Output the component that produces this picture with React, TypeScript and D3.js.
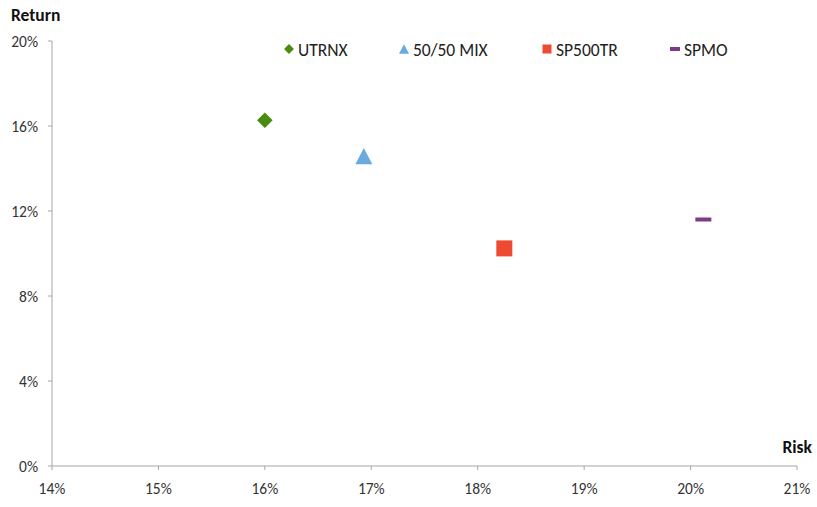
import { useEffect, useRef } from "react";
import * as d3 from "d3";

const names = ["UTRNX", "50/50 MIX", "SP500TR", "SPMO"];
const risk = [16.0, 16.93, 18.25, 20.12];
const ret = [16.27, 14.58, 10.24, 11.6];
const shapes = ["diamond", "triangle", "square", "dash"];
const colors = ["#4a8c10", "#6aaade", "#ee4a32", "#7d3a88"];
const xTicks = [14, 15, 16, 17, 18, 19, 20, 21];
const yTicks = [0, 4, 8, 12, 16, 20];

const width = 817;
const height = 507;
const font = "Carlito, 'Open Sans', 'Liberation Sans', sans-serif";

function drawMarker(g: d3.Selection<SVGGElement, unknown, null, undefined>, shape: string, color: string, s: number) {
  if (shape === "diamond") {
    g.append("rect").attr("x", -s / 2).attr("y", -s / 2).attr("width", s).attr("height", s)
      .attr("transform", "rotate(45)").attr("fill", color);
  } else if (shape === "triangle") {
    const h = s * 0.95;
    g.append("path").attr("d", `M0,${-h / 2}L${s / 2},${h / 2}L${-s / 2},${h / 2}Z`).attr("fill", color);
  } else if (shape === "square") {
    g.append("rect").attr("x", -s / 2).attr("y", -s / 2).attr("width", s).attr("height", s).attr("fill", color);
  } else {
    g.append("rect").attr("x", -s / 2).attr("y", -2).attr("width", s).attr("height", 4).attr("fill", color);
  }
}

export default function App() {
  const svgRef = useRef<SVGSVGElement | null>(null);

  useEffect(() => {
    if (!svgRef.current) return;
    const svg = d3.select(svgRef.current);
    svg.selectAll("*").remove();

    const x = d3.scaleLinear().domain([14, 21]).range([52, 797]);
    const y = d3.scaleLinear().domain([0, 20]).range([466, 41]);

    // axes
    const axisColor = "#a6a6a6";
    svg.append("line").attr("x1", x(14)).attr("x2", x(21)).attr("y1", y(0)).attr("y2", y(0))
      .attr("stroke", axisColor).attr("stroke-width", 1);
    svg.append("line").attr("x1", x(14)).attr("x2", x(14)).attr("y1", y(0)).attr("y2", y(20))
      .attr("stroke", axisColor).attr("stroke-width", 1);

    svg.selectAll(".xt").data(xTicks).enter().append("line")
      .attr("x1", d => x(d)).attr("x2", d => x(d)).attr("y1", y(0)).attr("y2", y(0) + 4)
      .attr("stroke", axisColor);
    svg.selectAll(".yt").data(yTicks).enter().append("line")
      .attr("x1", x(14) - 4).attr("x2", x(14)).attr("y1", d => y(d)).attr("y2", d => y(d))
      .attr("stroke", axisColor);

    svg.selectAll(".xl").data(xTicks).enter().append("text")
      .attr("x", d => x(d)).attr("y", y(0) + 28).attr("text-anchor", "middle")
      .attr("font-family", font).attr("font-size", 15.5).attr("fill", "#333")
      .text(d => `${d}%`);
    svg.selectAll(".yl").data(yTicks).enter().append("text")
      .attr("x", 38).attr("y", d => y(d) + 5.5).attr("text-anchor", "end")
      .attr("font-family", font).attr("font-size", 15.5).attr("fill", "#333")
      .text(d => `${d}%`);

    svg.append("text").attr("x", 11).attr("y", 21).attr("font-family", font)
      .attr("font-size", 17.5).attr("font-weight", "bold").attr("fill", "#111").text("Return");
    svg.append("text").attr("x", 812).attr("y", 453).attr("text-anchor", "end").attr("font-family", font)
      .attr("font-size", 17.5).attr("font-weight", "bold").attr("fill", "#111").text("Risk");

    // points
    const sizes = [11, 17, 16, 16];
    names.forEach((n, i) => {
      const g = svg.append("g").attr("transform", `translate(${x(risk[i])},${y(ret[i])})`);
      drawMarker(g, shapes[i], colors[i], sizes[i]);
    });

    // legend
    const legendX = [289, 404, 547, 675];
    const legendSizes = [7, 10, 9, 10];
    names.forEach((n, i) => {
      const g = svg.append("g").attr("transform", `translate(${legendX[i]},49)`);
      drawMarker(g, shapes[i], colors[i], legendSizes[i]);
      svg.append("text").attr("x", legendX[i] + 9).attr("y", 55.5)
        .attr("font-family", font).attr("font-size", 17.5).attr("fill", "#222").text(n);
    });
  }, []);

  return (
    <svg ref={svgRef} width={width} height={height}
      style={{ position: "absolute", left: 0, top: 0, background: "#fff" }} />
  );
}
